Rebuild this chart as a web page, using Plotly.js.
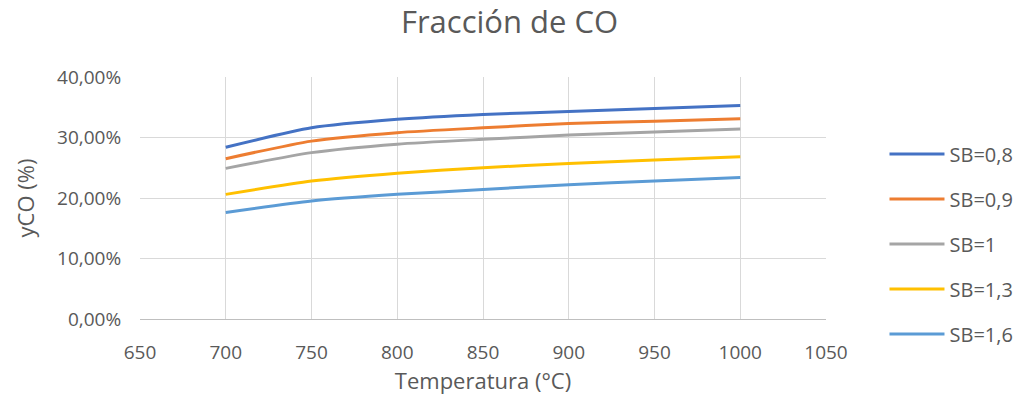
<!DOCTYPE html>
<html><head><meta charset="utf-8">
<script src="https://cdn.plot.ly/plotly-3.0.1.min.js"></script>
<style>body{margin:0;background:#fff}#c{width:1019px;height:409px}</style>
</head><body><div id="c"></div>
<script>
const temps = [700, 750, 800, 850, 900, 950, 1000];
const sb08 = [0.284, 0.316, 0.330, 0.338, 0.343, 0.348, 0.353];
const sb09 = [0.265, 0.294, 0.308, 0.316, 0.323, 0.327, 0.331];
const sb10 = [0.249, 0.275, 0.289, 0.297, 0.304, 0.309, 0.314];
const sb13 = [0.206, 0.228, 0.241, 0.250, 0.257, 0.263, 0.268];
const sb16 = [0.176, 0.195, 0.206, 0.214, 0.222, 0.228, 0.234];
const names = ['SB=0,8','SB=0,9','SB=1','SB=1,3','SB=1,6'];
const colors = ['#4472C4','#ED7D31','#A5A5A5','#FFC000','#5B9BD5'];
const series = [sb08, sb09, sb10, sb13, sb16];
const font = '"Open Sans", sans-serif';
const traces = series.map((s,i)=>({x:temps,y:s,name:names[i],type:'scatter',mode:'lines',
  line:{color:colors[i],width:3,shape:'spline',smoothing:0.6},legendgroup:'g'+i}));
Plotly.newPlot('c', traces, {
  width:1019,height:409,
  margin:{l:140,r:193,t:77,b:90,autoexpand:false},
  paper_bgcolor:'#fff',plot_bgcolor:'#fff',
  separators:',.',
  font:{family:font,color:'#595959',size:19},
  title:{text:'Fracción de CO',font:{size:31,color:'#595959',family:font},x:0.5,xanchor:'center',y:0.945,yanchor:'middle'},
  xaxis:{range:[650,1050],dtick:50,tick0:650,showgrid:true,gridcolor:'#d9d9d9',gridwidth:1,
    showline:true,linecolor:'#bfbfbf',linewidth:1,zeroline:false,ticks:'outside',ticklen:16,tickcolor:'rgba(0,0,0,0)',
    tickfont:{size:19,color:'#595959'},
    title:{text:'Temperatura (°C)',font:{size:22,color:'#595959'},standoff:8}},
  yaxis:{range:[0,0.4],dtick:0.1,tickformat:'.2%',showgrid:true,gridcolor:'#d9d9d9',gridwidth:1,
    zeroline:false,showline:false,ticks:'outside',ticklen:14,tickcolor:'rgba(0,0,0,0)',tickfont:{size:19,color:'#595959'},
    title:{text:'yCO (%)',font:{size:22,color:'#595959'},standoff:16}},
  legend:{xref:'container',x:0.868,xanchor:'left',y:0.31,yanchor:'middle',traceorder:'grouped',tracegroupgap:16,
    itemwidth:55,font:{size:20,color:'#595959'},bgcolor:'rgba(0,0,0,0)'},
  showlegend:true
},{displayModeBar:false,staticPlot:true});
</script></body></html>
